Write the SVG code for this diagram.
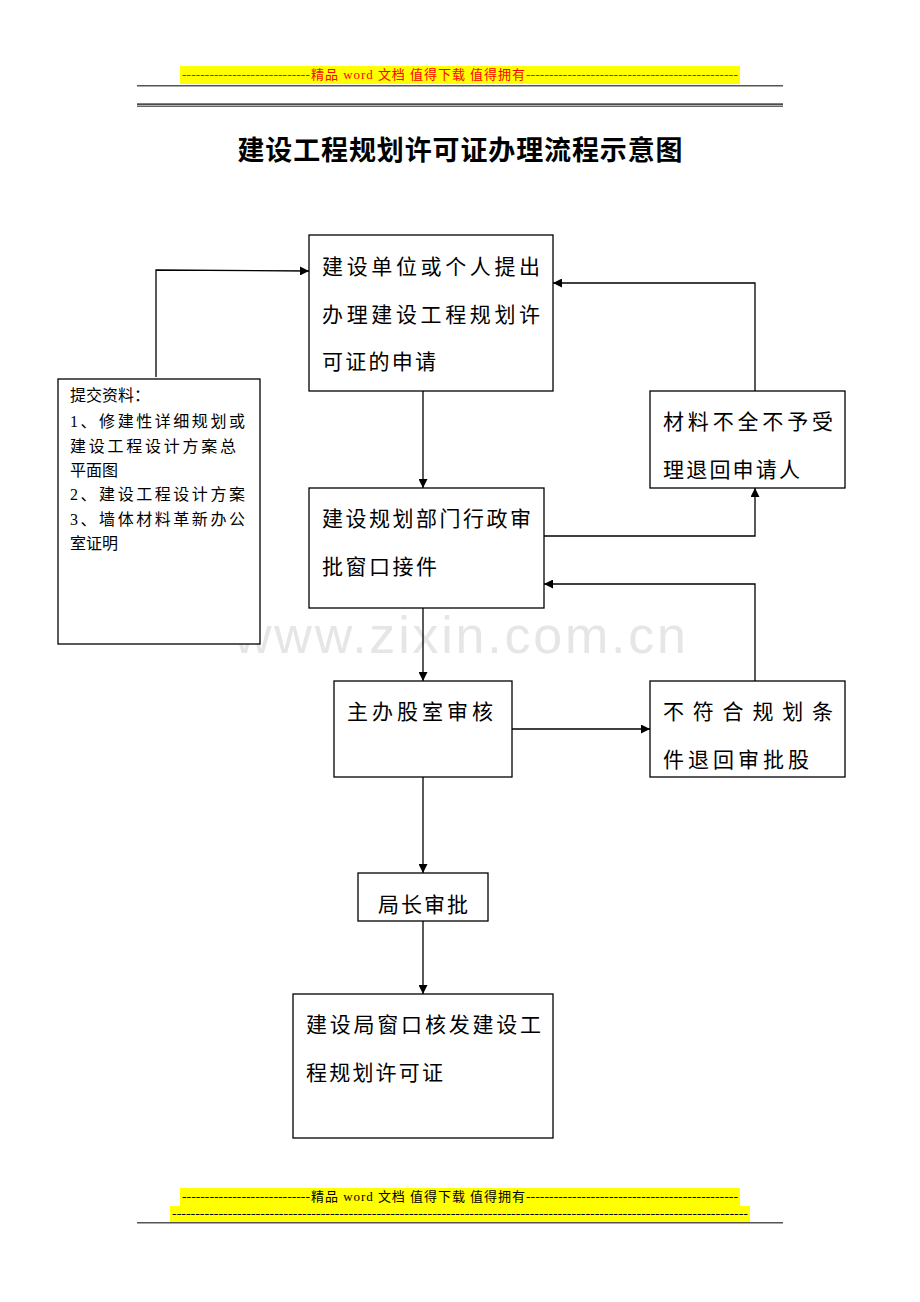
<svg xmlns="http://www.w3.org/2000/svg" width="920" height="1302" viewBox="0 0 920 1302">
<defs>
<style>
.box{fill:#fff;stroke:#000;stroke-width:1.3}
.cn{font-family:"Liberation Serif","Noto Sans CJK SC",serif;fill:#000}
.t{font-size:21px}
.s{font-size:16px}
.con{fill:none;stroke:#000;stroke-width:1.3}
.hdr{font-family:"Liberation Serif","Noto Sans CJK SC",serif;font-size:13px}
</style>
<marker id="ah" viewBox="0 0 10 10" refX="10" refY="5" markerWidth="9" markerHeight="9" markerUnits="userSpaceOnUse" orient="auto"><path d="M0,0 L10,5 L0,10 z" fill="#000"/></marker>
</defs>
<rect width="920" height="1302" fill="#fff"/>
<!-- header -->
<g id="header">
<rect x="180" y="66" width="560" height="18" fill="#ffff00"/>
<text class="hdr" x="182" y="79" fill="#ff0000" textLength="128" lengthAdjust="spacingAndGlyphs">----------------------------</text>
<text class="hdr" x="311" y="79" fill="#ff0000" textLength="214">精品 word 文档  值得下载  值得拥有</text>
<text class="hdr" x="526" y="79" fill="#ff0000" textLength="212" lengthAdjust="spacingAndGlyphs">----------------------------------------------</text>
<rect x="137" y="85" width="646" height="1.5" fill="#555"/>
<rect x="137" y="103.5" width="646" height="1.2" fill="#000"/>
<rect x="137" y="105.5" width="646" height="1.5" fill="#666"/>
</g>
<text x="460" y="160" text-anchor="middle" font-family="'Liberation Serif','Noto Sans CJK SC',serif" font-size="27" font-weight="bold" textLength="445">建设工程规划许可证办理流程示意图</text>
<!-- watermark -->
<text x="460" y="653" text-anchor="middle" font-family="'Liberation Sans',Arial,sans-serif" font-size="52" fill="#e6e6e6" textLength="452">www.zixin.com.cn</text>
<!-- connectors -->
<g id="connectors">
<path class="con" d="M156,377 L156,270 L309,271" marker-end="url(#ah)"/>
<path class="con" d="M423,391 L423,488" marker-end="url(#ah)"/>
<path class="con" d="M544,536 L755,536 L755,488" marker-end="url(#ah)"/>
<path class="con" d="M755,391 L755,283 L553,283" marker-end="url(#ah)"/>
<path class="con" d="M423,608 L423,681" marker-end="url(#ah)"/>
<path class="con" d="M512,729 L650,729" marker-end="url(#ah)"/>
<path class="con" d="M755,681 L755,584 L544,584" marker-end="url(#ah)"/>
<path class="con" d="M423,777 L423,873" marker-end="url(#ah)"/>
<path class="con" d="M423,921 L423,994" marker-end="url(#ah)"/>
</g>
<g id="n_apply">
<rect class="box" x="309" y="235" width="244" height="156"/>
<text class="cn t" x="322" y="274" textLength="218">建设单位或个人提出</text>
<text class="cn t" x="322" y="322" textLength="218">办理建设工程规划许</text>
<text class="cn t" x="322" y="369" textLength="114">可证的申请</text>
</g>
<g id="n_materials">
<rect class="box" x="58" y="379" width="202" height="265"/>
<text class="cn s" x="70" y="401">提交资料：</text>
<text class="cn s" x="70" y="427" textLength="175">1、修建性详细规划或</text>
<text class="cn s" x="70" y="452" textLength="166">建设工程设计方案总</text>
<text class="cn s" x="70" y="476">平面图</text>
<text class="cn s" x="70" y="500" textLength="175">2、建设工程设计方案</text>
<text class="cn s" x="70" y="525" textLength="175">3、墙体材料革新办公</text>
<text class="cn s" x="70" y="549">室证明</text>
</g>
<g id="n_window">
<rect class="box" x="309" y="488" width="235" height="120"/>
<text class="cn t" x="322" y="526" textLength="209">建设规划部门行政审</text>
<text class="cn t" x="322" y="574" textLength="115">批窗口接件</text>
</g>
<g id="n_incomplete">
<rect class="box" x="650" y="391" width="195" height="97"/>
<text class="cn t" x="663" y="429" textLength="170">材料不全不予受</text>
<text class="cn t" x="663" y="477" textLength="137">理退回申请人</text>
</g>
<g id="n_review">
<rect class="box" x="334" y="681" width="178" height="96"/>
<text class="cn t" x="347" y="719" textLength="146">主办股室审核</text>
</g>
<g id="n_reject">
<rect class="box" x="650" y="681" width="195" height="96"/>
<text class="cn t" x="663" y="719" textLength="170">不符合规划条</text>
<text class="cn t" x="663" y="767" textLength="146">件退回审批股</text>
</g>
<g id="n_director">
<rect class="box" x="358" y="873" width="130" height="48"/>
<text class="cn t" x="378" y="912" textLength="90">局长审批</text>
</g>
<g id="n_issue">
<rect class="box" x="293" y="994" width="260" height="144"/>
<text class="cn t" x="306" y="1032" textLength="235">建设局窗口核发建设工</text>
<text class="cn t" x="306" y="1080" textLength="137">程规划许可证</text>
</g>
<!-- footer -->
<g id="footer">
<rect x="180" y="1188" width="560" height="18" fill="#ffff00"/>
<rect x="170" y="1206" width="580" height="16" fill="#ffff00"/>
<text class="hdr" x="182" y="1201" fill="#000" textLength="128" lengthAdjust="spacingAndGlyphs">----------------------------</text>
<text class="hdr" x="311" y="1201" fill="#000" textLength="214">精品 word 文档  值得下载  值得拥有</text>
<text class="hdr" x="526" y="1201" fill="#000" textLength="212" lengthAdjust="spacingAndGlyphs">----------------------------------------------</text>
<text class="hdr" x="172" y="1218" fill="#000" textLength="576" lengthAdjust="spacingAndGlyphs">----------------------------------------------------------------------------------------------------------------------------</text>
<rect x="137" y="1222" width="646" height="1.5" fill="#555"/>
</g>
</svg>
